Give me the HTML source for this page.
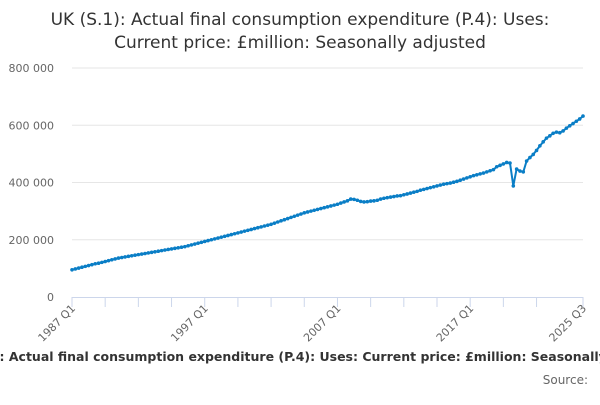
<!DOCTYPE html>
<html><head><meta charset="utf-8"><style>
body{margin:0;background:#fff;width:600px;height:400px;overflow:hidden;font-family:"Liberation Sans","DejaVu Sans",sans-serif}
</style></head><body>
<svg id="c" width="600" height="400" font-family="DejaVu Sans, Liberation Sans, sans-serif">
<text x="300" y="25" text-anchor="middle" font-size="17" fill="#333">UK (S.1): Actual final consumption expenditure (P.4): Uses:</text>
<text x="300" y="48" text-anchor="middle" font-size="17" fill="#333">Current price: £million: Seasonally adjusted</text>
<g id="grid"></g><g id="axes"></g>
<path id="line" fill="none" stroke="#0a7ec6" stroke-width="2"/>
<g id="pts"></g>
<text x="307" y="361" text-anchor="middle" font-size="12.5" font-weight="bold" fill="#333">UK (S.1): Actual final consumption expenditure (P.4): Uses: Current price: £million: Seasonally adjusted</text>
<text x="588" y="384" text-anchor="end" font-size="12" fill="#666">Source:</text>
</svg>
<script>
const yTicks=[0,200000,400000,600000,800000];
const yTickLabels=["0","200 000","400 000","600 000","800 000"];
const xLabelIdx=[0,40,80,120,154];
const xLabels=["1987 Q1","1997 Q1","2007 Q1","2017 Q1","2025 Q3"];
const xTickIdx=[0,10,20,30,40,50,60,70,80,90,100,110,120,130,140,154];
const values=[95,98,101,104,107,110,113,116,118,121,124,127,130,133,136,138,140,142,144,146,148,150,152,154,156,158,160,162,164,166,168,170,172,174,176,179,182,185,188,191,194,197,200,203,206,209,212,215,218,221,224,227,230,233,236,239,242,245,248,251,254,258,262,266,270,274,278,282,286,290,294,297,300,303,306,309,312,315,318,321,324,328,332,336,342,341,338,334,332,333,335,336,338,342,345,347,349,351,353,354,357,360,363,366,369,373,376,379,382,385,388,391,394,396,398,401,404,408,412,416,420,424,427,430,433,437,441,445,455,460,465,470,468,388,447,440,437,475,487,498,512,528,542,555,563,572,576,574,580,590,598,606,614,622,632].map(v=>v*1000);
const NS="http://www.w3.org/2000/svg";
const X0=72,X1=583,Y0=297,Y1=68;
const xs=i=>X0+(X1-X0)*i/154;
const ys=v=>Y0-(Y0-Y1)*v/800000;
const grid=document.getElementById('grid'),axes=document.getElementById('axes');
function mk(tag,at,parent){const e=document.createElementNS(NS,tag);for(const k in at)e.setAttribute(k,at[k]);parent.appendChild(e);return e;}
yTicks.forEach((t,i)=>{
 if(t>0){const l=mk('line',{x1:X0,x2:X1,y1:ys(t),y2:ys(t),stroke:'#e6e6e6','stroke-width':1},grid);
 
 }
 const tx=mk('text',{x:54,y:ys(t)+4,'text-anchor':'end','font-size':11,fill:'#666'},axes);
 tx.textContent=yTickLabels[i];
 
 
});
const ax=mk('line',{x1:X0,x2:X1,y1:Y0+0.5,y2:Y0+0.5,stroke:'#ccd6eb','stroke-width':1},axes);


xTickIdx.forEach(i=>{const t=mk('line',{x1:xs(i),x2:xs(i),y1:Y0,y2:Y0+10,stroke:'#ccd6eb'},axes);
 
 });
xLabelIdx.forEach((i,k)=>{const x=xs(i)+4,y=Y0+12;
 const t=mk('text',{x:x,y:y,'text-anchor':'end','font-size':11,fill:'#666',transform:`rotate(-45 ${x} ${y})`},axes);
 t.textContent=xLabels[k];
 
 });
document.getElementById('line').setAttribute('d',values.map((v,i)=>(i?'L':'M')+xs(i).toFixed(1)+' '+ys(v).toFixed(1)).join(''));
const pts=document.getElementById('pts');
values.forEach((v,i)=>{const c=mk('circle',{cx:xs(i),cy:ys(v),r:1.8,fill:'#0a7ec6'},pts);
 
 });
</script>
</body></html>
